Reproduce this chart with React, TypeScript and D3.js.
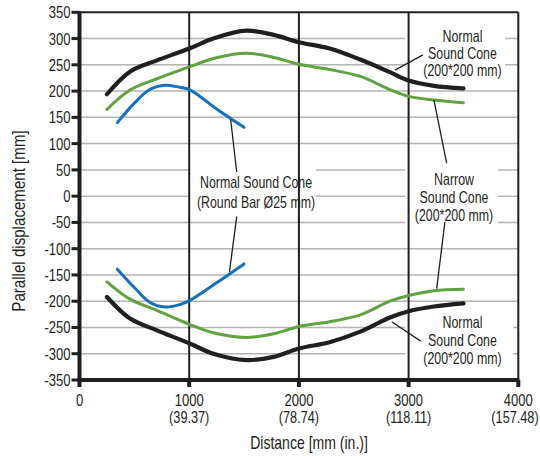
import React from "react";
import * as d3 from "d3";

const W = 540;
const H = 456;

const xTicks = [0, 1000, 2000, 3000, 4000];
const xTickInch = ["", "(39.37)", "(78.74)", "(118.11)", "(157.48)"];
const yTicks = d3.range(-350, 351, 50);
const yGrid = d3.range(-300, 301, 50);
const vLines = [1000, 2000, 3000];

const distWide = [250, 460, 700, 1000, 1220, 1520, 1770, 2000, 2280, 2560, 2830, 3000, 3230, 3500];
const normalUpper = [194, 237, 258, 281, 300, 315, 307, 293, 281, 260, 236, 220, 210, 205];
const normalLower = [-192, -233, -255, -280, -300, -312, -306, -290, -278, -258, -231, -219, -210, -204];
const narrowUpper = [165, 202, 223, 246, 262, 272, 264, 251, 241, 228, 203, 190, 183, 178];
const narrowLower = [-163, -196, -217, -244, -260, -269, -262, -248, -239, -226, -200, -189, -180, -177];
const distBar = [345, 500, 640, 780, 920, 1010, 1250, 1500];
const barUpper = [140, 177, 203, 211, 207, 202, 166, 131];
const barLower = [-139, -174, -202, -211, -206, -198, -165, -129];

const COLORS = { normal: "#1f1f1f", narrow: "#62a142", bar: "#1670be" };

const series = [
  { key: "narrowU", xs: distWide, ys: narrowUpper, color: COLORS.narrow, w: 3 },
  { key: "narrowL", xs: distWide, ys: narrowLower, color: COLORS.narrow, w: 3 },
  { key: "normalU", xs: distWide, ys: normalUpper, color: COLORS.normal, w: 4.2 },
  { key: "normalL", xs: distWide, ys: normalLower, color: COLORS.normal, w: 4.2 },
  { key: "barU", xs: distBar, ys: barUpper, color: COLORS.bar, w: 3 },
  { key: "barL", xs: distBar, ys: barLower, color: COLORS.bar, w: 3 },
];

// label boxes (data units): [x0, x1, yTop, yBottom]
const labelBoxes = [
  [1007, 2156, 63, -40],
  [2967, 3880, 326, 217],
  [2967, 3815, 63, -59],
  [2967, 3952, -223, -331],
];

// leader lines (data units): [x1, y1, x2, y2]
const leaders = [
  [1378, 146, 1433, 46],
  [1433, -39, 1367, -144],
  [2876, 240, 3131, 269],
  [2846, -239, 3110, -276],
  [3231, 183, 3347, 63],
  [3331, -49, 3256, -176],
];

const labelTexts = [
  { cx: 1609, lines: ["Normal Sound Cone", "(Round Bar Ø25 mm)"], ys: [15, -23] },
  { cx: 3491, lines: ["Normal", "Sound Cone", "(200*200 mm)"], ys: [294, 262, 229] },
  { cx: 3414, lines: ["Narrow", "Sound Cone", "(200*200 mm)"], ys: [21, -13, -48] },
  { cx: 3491, lines: ["Normal", "Sound Cone", "(200*200 mm)"], ys: [-251, -286, -320] },
];

const FONT = "'Liberation Sans', Arial, sans-serif";
const TXT = "#231f20";

function CText(props: {
  x: number;
  y: number;
  size: number;
  sx: number;
  anchor?: string;
  rotate?: number;
  dy?: string;
  children: React.ReactNode;
}) {
  const { x, y, size, sx, anchor = "middle", rotate = 0, dy, children } = props;
  return (
    <text
      transform={`translate(${x},${y}) rotate(${rotate}) scale(${sx},1)`}
      textAnchor={anchor}
      fontSize={size}
      dy={dy}
      fill={TXT}
    >
      {children}
    </text>
  );
}

export default function App() {
  const left = 79.5, right = 518.3, top = 12.3, bottom = 380;
  const x = d3.scaleLinear().domain([0, 4000]).range([left, right]);
  const y = d3.scaleLinear().domain([-350, 350]).range([bottom, top]);
  const line = d3
    .line<[number, number]>()
    .x((d) => x(d[0]))
    .y((d) => y(d[1]))
    .curve(d3.curveCatmullRom.alpha(0.5));

  return (
    <svg
      width={W}
      height={H}
      style={{ position: "absolute", left: 0, top: 0, background: "#fff" }}
      fontFamily={FONT}
    >
      <rect x={0} y={0} width={W} height={H} fill="#fff" />
      {yGrid.map((v) => (
        <line key={"g" + v} x1={left} x2={right} y1={y(v)} y2={y(v)} stroke="#b4b4b4" strokeWidth={1.5} />
      ))}
      {labelBoxes.map((b, i) => (
        <rect key={"b" + i} x={x(b[0])} y={y(b[2])} width={x(b[1]) - x(b[0])} height={y(b[3]) - y(b[2])} fill="#fff" />
      ))}
      {vLines.map((v) => (
        <line key={"v" + v} x1={x(v)} x2={x(v)} y1={top} y2={bottom} stroke="#1f1f1f" strokeWidth={2} />
      ))}
      <line x1={left} x2={right} y1={top} y2={top} stroke="#1f1f1f" strokeWidth={2} />
      <line x1={right} x2={right} y1={top} y2={bottom} stroke="#1f1f1f" strokeWidth={2} />
      {series.map((s) => (
        <path
          key={s.key}
          d={line(s.xs.map((d, i) => [d, s.ys[i]] as [number, number])) || ""}
          fill="none"
          stroke={s.color}
          strokeWidth={s.w}
          strokeLinecap="round"
        />
      ))}
      {leaders.map((l, i) => (
        <line key={"l" + i} x1={x(l[0])} y1={y(l[1])} x2={x(l[2])} y2={y(l[3])} stroke="#1f1f1f" strokeWidth={1.3} />
      ))}
      {labelTexts.map((t, i) => (
        <g key={"t" + i}>
          {t.lines.map((s, j) => (
            <CText key={j} x={x(t.cx)} y={y(t.ys[j])} size={16.5} sx={0.75}>
              {s}
            </CText>
          ))}
        </g>
      ))}
      <line x1={left} x2={left} y1={top - 1} y2={bottom + 2} stroke="#1f1f1f" strokeWidth={4} />
      <line x1={left - 2} x2={right + 1} y1={bottom} y2={bottom} stroke="#1f1f1f" strokeWidth={4} />
      {yTicks.map((v) => (
        <g key={"yt" + v}>
          <line x1={left - 8} x2={left} y1={y(v)} y2={y(v)} stroke="#1f1f1f" strokeWidth={3} />
          <CText x={70.5} y={y(v)} dy="0.36em" anchor="end" size={16.5} sx={0.79}>
            {v}
          </CText>
        </g>
      ))}
      {xTicks.map((v, i) => (
        <g key={"xt" + v}>
          <line x1={x(v)} x2={x(v)} y1={bottom} y2={bottom + 7} stroke="#1f1f1f" strokeWidth={4} />
          <CText x={x(v)} y={405.5} size={16.5} sx={0.79}>
            {v}
          </CText>
          {xTickInch[i] && (
            <CText x={Math.min(x(v), W - 25)} y={422.5} size={16.5} sx={0.77}>
              {xTickInch[i]}
            </CText>
          )}
        </g>
      ))}
      <CText x={309} y={449} size={18} sx={0.78}>
        Distance [mm (in.)]
      </CText>
      <CText x={25} y={221} size={18} sx={0.84} rotate={-90}>
        Parallel displacement [mm]
      </CText>
    </svg>
  );
}
